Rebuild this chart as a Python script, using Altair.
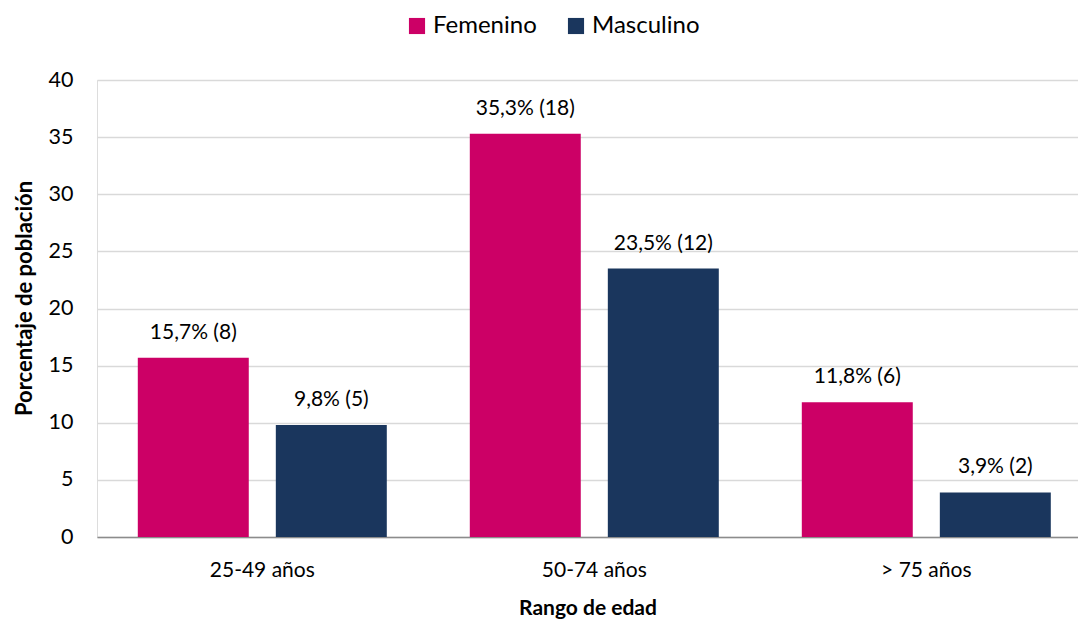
import altair as alt
import pandas as pd

# Age ranges, sex groups and the share of the population (with counts) per group
rangos = ["25-49 años", "50-74 años", "> 75 años"]
sexos = ["Femenino", "Masculino"]
femenino_pct = [15.7, 35.3, 11.8]
masculino_pct = [9.8, 23.5, 3.9]
femenino_n = [8, 18, 6]
masculino_n = [5, 12, 2]

rows = []
for i, r in enumerate(rangos):
    for sexo, pct, n in (("Femenino", femenino_pct[i], femenino_n[i]),
                         ("Masculino", masculino_pct[i], masculino_n[i])):
        rows.append({
            "rango": r,
            "sexo": sexo,
            "pct": pct,
            "etiqueta": f"{pct:.1f}".replace(".", ",") + f"% ({n})",
        })
df = pd.DataFrame(rows)

FONT = "Lato"
colores = ["#CC0066", "#1A365D"]

x_scale = alt.Scale(paddingInner=0.25, paddingOuter=0.1024, align=0.6)
x_enc = alt.X(
    "rango:N",
    sort=rangos,
    title="Rango de edad",
    scale=x_scale,
    axis=alt.Axis(
        labelAngle=0, labelFontSize=21, labelFont=FONT, labelColor="#000000",
        labelPadding=22, ticks=False, domainColor="#8C8C8C", domainWidth=1.5,
        titleFont=FONT, titleFontSize=21, titleFontWeight="bold",
        titleColor="#000000", titlePadding=17,
    ),
)
x_off = alt.XOffset("sexo:N", sort=sexos,
                    scale=alt.Scale(paddingInner=0.196, paddingOuter=0))

bars = alt.Chart(df).mark_bar().encode(
    x=x_enc,
    xOffset=x_off,
    y=alt.Y(
        "pct:Q",
        title="Porcentaje de población",
        scale=alt.Scale(domain=[0, 40], nice=False),
        axis=alt.Axis(
            values=[0, 5, 10, 15, 20, 25, 30, 35, 40], labelFontSize=21.5,
            labelFont=FONT, labelColor="#000000", labelPadding=24,
            ticks=False, domain=False, gridColor="#D9D9D9", gridWidth=1.5,
            titleFont=FONT, titleFontSize=22, titleFontWeight="bold",
            titleColor="#000000", titlePadding=12, titleY=218,
        ),
    ),
    color=alt.Color(
        "sexo:N",
        sort=sexos,
        scale=alt.Scale(domain=sexos, range=colores),
        legend=alt.Legend(
            title=None, orient="none", direction="horizontal",
            legendX=308, legendY=-66, symbolType="square", symbolSize=260,
            symbolStrokeWidth=0, symbolOpacity=1, labelFont=FONT,
            labelFontSize=24, labelColor="#000000", columnPadding=27,
            labelOffset=4,
        ),
    ),
)

labels = alt.Chart(df).mark_text(
    font=FONT, fontSize=21, color="#000000", baseline="alphabetic", dy=-19
).encode(
    x=alt.X("rango:N", sort=rangos, scale=x_scale),
    xOffset=x_off,
    y="pct:Q",
    text="etiqueta:N",
)

chart = (
    alt.layer(bars, labels)
    .properties(width=981, height=457,
                padding={"left": 97, "top": 80, "right": 0, "bottom": 82},
                autosize=alt.AutoSizeParams(type="none"))
    .configure_view(stroke=None)
    .configure(background="#FFFFFF")
)

chart.save("out.html", embed_options={"renderer": "svg", "actions": False})
